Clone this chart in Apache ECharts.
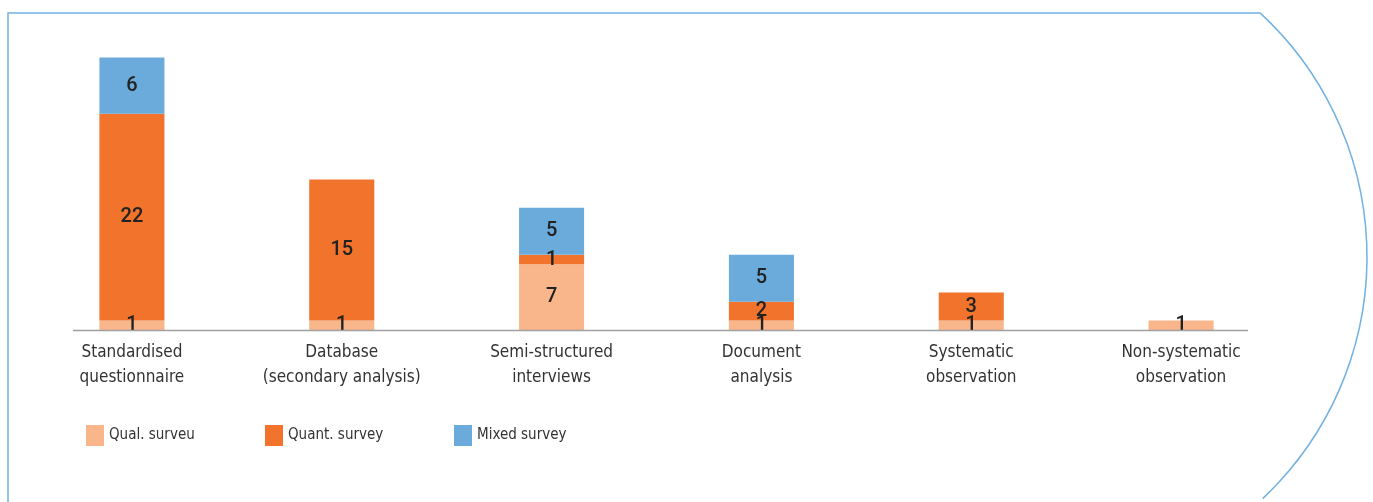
<!DOCTYPE html>
<html style="height: 100%">
<head>
    <meta charset="utf-8">
</head>
<body style="height: 100%; margin: 0; background: #fff">
    <div id="container" style="width: 1373px; height: 502px"></div>
    <script type="text/javascript" src="https://cdn.jsdelivr.net/npm/echarts@6/dist/echarts.min.js"></script>
    <script type="text/javascript">
        var categories = ['Standardised\nquestionnaire', 'Database\n(secondary analysis)', 'Semi-structured\ninterviews',
            'Document\nanalysis', 'Systematic\nobservation', 'Non-systematic\nobservation'];
        var qualSurvey = [1, 1, 7, 1, 1, 1];
        var quantSurvey = [22, 15, 1, 2, 3, 0];
        var mixedSurvey = [6, 0, 5, 5, 0, 0];
        var seriesNames = ['Qual. surveu', 'Quant. survey', 'Mixed survey'];
        var colors = ['#f9b68a', '#f1732c', '#6aabdc'];

        var dom = document.getElementById('container');
        var myChart = echarts.init(dom);

        var labelFont = "Roboto, 'Noto Sans', sans-serif";
        var textFont = "'Liberation Sans Narrow', 'DejaVu Sans Condensed', 'Noto Sans', sans-serif";

        function makeSeries(name, data, color) {
            return {
                name: name,
                type: 'bar',
                stack: 'total',
                barWidth: '31%',
                itemStyle: { color: color },
                label: {
                    show: true,
                    position: 'inside',
                    color: '#222',
                    fontSize: 20,
                    fontWeight: 500,
                    fontFamily: labelFont,
                    formatter: function (p) { return p.value ? p.value : ''; }
                },
                data: data
            };
        }

        // one legend per series so each swatch sits where the original has it
        var legendLeft = [81, 260, 449];
        var legends = seriesNames.map(function (name, i) {
            return {
                left: legendLeft[i],
                top: 420,
                itemWidth: 18,
                itemHeight: 21,
                icon: 'rect',
                data: [name],
                textStyle: { fontSize: 15, color: '#333', fontFamily: textFont }
            };
        });

        var option = {
            animation: false,
            textStyle: { fontFamily: textFont },
            legend: legends,
            grid: {
                left: 27,
                right: 87,
                top: 48,
                bottom: 172,
                containLabel: false
            },
            xAxis: {
                type: 'category',
                data: categories,
                axisLine: { show: false },
                axisTick: { show: false },
                axisLabel: {
                    interval: 0,
                    margin: 10,
                    fontSize: 17,
                    lineHeight: 25,
                    color: '#333',
                    fontFamily: textFont
                }
            },
            yAxis: {
                type: 'value',
                min: 0,
                max: 30,
                show: false,
                splitLine: { show: false }
            },
            graphic: [
                {
                    type: 'line',
                    z: 100,
                    shape: { x1: 73, y1: 330.5, x2: 1248, y2: 330.5 },
                    style: { stroke: '#a0a0a0', lineWidth: 1.5 }
                },
                {
                    type: 'polyline',
                    z: 100,
                    shape: { points: [[8, 502], [8, 13], [1260, 13]] },
                    style: { fill: null, stroke: '#72b1e2', lineWidth: 1.5 }
                },
                {
                    type: 'arc',
                    z: 100,
                    shape: { cx: 1035, cy: 257, r: 332, startAngle: -0.826, endAngle: 0.815, clockwise: true },
                    style: { fill: null, stroke: '#72b1e2', lineWidth: 1.5 }
                }
            ],
            series: [
                makeSeries(seriesNames[0], qualSurvey, colors[0]),
                makeSeries(seriesNames[1], quantSurvey, colors[1]),
                makeSeries(seriesNames[2], mixedSurvey, colors[2])
            ]
        };
        myChart.setOption(option);
    </script>
</body>
</html>
